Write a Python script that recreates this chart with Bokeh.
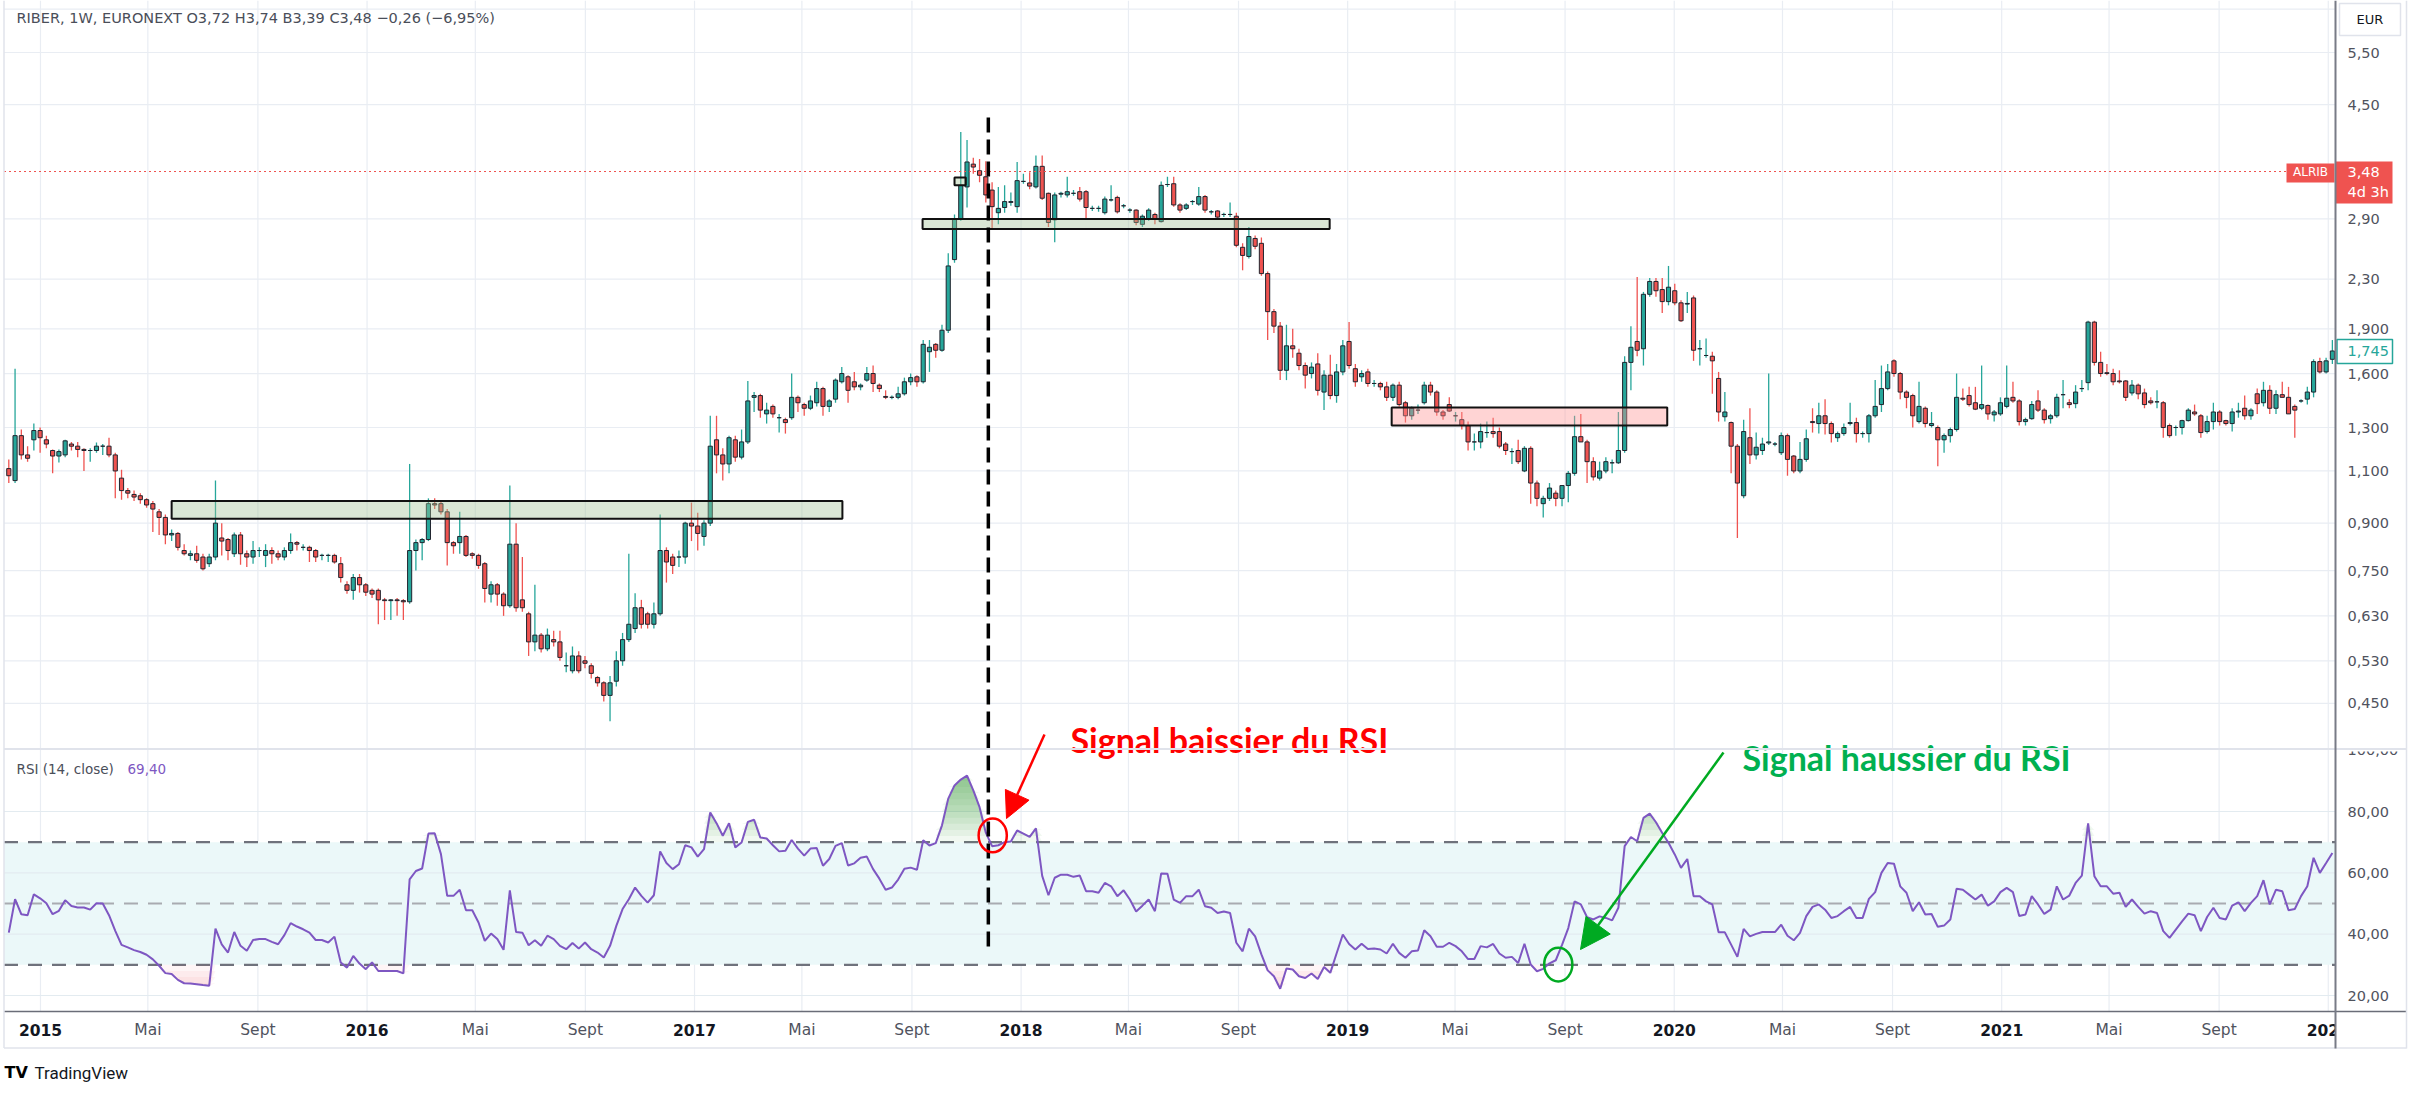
import math
from datetime import date
from bokeh.plotting import figure
from bokeh.models import Range1d, LogScale, Arrow, NormalHead, ColumnDataSource
from bokeh.core.properties import value
from bokeh.embed import file_html
from bokeh.resources import INLINE

# ------------------------------------------------------------------ data
START = date(2014, 11, 24)   # first weekly candle
BAR_OFFSET = 0.37            # TradingView bar alignment vs calendar

OPEN = [
1.11, 1.06, 1.26, 1.17, 1.24, 1.285, 1.24, 1.19, 1.165, 1.17,
1.22, 1.21, 1.195, 1.19, 1.19, 1.21, 1.21, 1.17, 1.07, 1.02,
1.005, 1.00, 0.985, 0.97, 0.94, 0.92, 0.86, 0.865, 0.81, 0.795,
0.80, 0.79, 0.77, 0.79, 0.85, 0.845, 0.80, 0.86, 0.80, 0.79,
0.81, 0.795, 0.81, 0.80, 0.79, 0.81, 0.835, 0.82, 0.82, 0.81,
0.795, 0.795, 0.795, 0.77, 0.71, 0.695, 0.73, 0.71, 0.695, 0.695,
0.67, 0.668, 0.67, 0.668, 0.665, 0.81, 0.835, 0.845, 0.97, 0.97,
0.94, 0.835, 0.835, 0.855, 0.80, 0.795, 0.77, 0.685, 0.71, 0.685,
0.655, 0.83, 0.67, 0.635, 0.57, 0.585, 0.555, 0.575, 0.57, 0.52,
0.51, 0.54, 0.53, 0.52, 0.497, 0.487, 0.464, 0.49, 0.53, 0.575,
0.60, 0.65, 0.635, 0.61, 0.635, 0.81, 0.79, 0.79, 0.79, 0.90,
0.89, 0.855, 0.90, 1.24, 1.17, 1.13, 1.24, 1.16, 1.23, 1.46,
1.47, 1.37, 1.41, 1.35, 1.34, 1.35, 1.46, 1.42, 1.40, 1.43,
1.51, 1.41, 1.45, 1.55, 1.58, 1.55, 1.52, 1.56, 1.60, 1.53,
1.465, 1.46, 1.46, 1.48, 1.55, 1.58, 1.55, 1.74, 1.79, 1.75,
1.89, 2.48, 2.90, 3.28, 3.58, 3.49, 3.41, 3.24, 2.97, 3.03,
3.09, 3.04, 3.35, 3.33, 3.28, 3.55, 3.20, 2.89, 3.19, 3.18,
3.20, 3.22, 3.22, 3.02, 3.02, 2.97, 3.12, 3.15, 3.05, 3.00,
3.00, 2.84, 2.90, 2.95, 2.87, 3.31, 3.32, 3.06, 3.02, 3.10,
3.07, 3.16, 2.98, 2.99, 2.95, 2.95, 2.93, 2.60, 2.51, 2.69,
2.64, 2.35, 2.03, 1.92, 1.62, 1.78, 1.73, 1.65, 1.60, 1.66,
1.49, 1.59, 1.47, 1.61, 1.81, 1.63, 1.58, 1.61, 1.54, 1.54,
1.52, 1.46, 1.53, 1.43, 1.36, 1.39, 1.43, 1.53, 1.49, 1.38,
1.42, 1.36, 1.34, 1.31, 1.23, 1.23, 1.275, 1.28, 1.28, 1.22,
1.185, 1.19, 1.10, 1.20, 1.05, 0.97, 0.99, 1.01, 0.99, 1.04,
1.09, 1.255, 1.23, 1.14, 1.07, 1.10, 1.135, 1.135, 1.19, 1.67,
1.81, 1.76, 2.17, 2.28, 2.21, 2.11, 2.20, 2.10, 2.09, 2.14,
1.76, 1.715, 1.71, 1.57, 1.355, 1.325, 1.21, 1.00, 1.25, 1.17,
1.19, 1.225, 1.22, 1.18, 1.26, 1.165, 1.10, 1.15, 1.33, 1.32,
1.36, 1.32, 1.25, 1.27, 1.32, 1.325, 1.27, 1.27, 1.36, 1.42,
1.51, 1.68, 1.60, 1.49, 1.47, 1.33, 1.40, 1.31, 1.30, 1.24,
1.26, 1.29, 1.455, 1.47, 1.43, 1.40, 1.415, 1.365, 1.37, 1.41,
1.46, 1.44, 1.33, 1.345, 1.44, 1.39, 1.345, 1.36, 1.475, 1.43,
1.425, 1.51, 1.545, 1.95, 1.67, 1.605, 1.60, 1.555, 1.555, 1.485,
1.53, 1.485, 1.44, 1.435, 1.43, 1.31, 1.30, 1.30, 1.335, 1.38,
1.36, 1.28, 1.33, 1.38, 1.335, 1.32, 1.38, 1.40, 1.36, 1.48,
1.43, 1.50, 1.40, 1.475, 1.46, 1.41, 1.44, 1.45, 1.49, 1.675,
1.61, 1.69]

HIGH = [
1.15, 1.63, 1.29, 1.21, 1.32, 1.30, 1.26, 1.195, 1.195, 1.24,
1.23, 1.23, 1.20, 1.20, 1.227, 1.22, 1.25, 1.18, 1.105, 1.03,
1.02, 1.01, 0.99, 0.98, 0.95, 0.93, 0.878, 0.87, 0.83, 0.81,
0.825, 0.80, 0.80, 1.06, 0.90, 0.85, 0.868, 0.87, 0.81, 0.84,
0.82, 0.83, 0.82, 0.81, 0.82, 0.865, 0.84, 0.83, 0.825, 0.815,
0.80, 0.80, 0.80, 0.79, 0.72, 0.74, 0.74, 0.715, 0.70, 0.70,
0.675, 0.672, 0.675, 0.672, 1.13, 0.845, 0.85, 0.99, 0.99, 0.98,
0.95, 0.84, 0.94, 0.86, 0.805, 0.80, 0.775, 0.72, 0.715, 0.69,
1.04, 0.90, 0.79, 0.64, 0.71, 0.59, 0.60, 0.595, 0.595, 0.547,
0.56, 0.55, 0.54, 0.525, 0.50, 0.49, 0.50, 0.55, 0.59, 0.80,
0.687, 0.67, 0.64, 0.663, 0.93, 0.82, 0.80, 0.81, 0.905, 0.974,
0.937, 0.91, 1.36, 1.36, 1.20, 1.26, 1.26, 1.29, 1.555, 1.49,
1.48, 1.43, 1.42, 1.37, 1.35, 1.60, 1.47, 1.43, 1.47, 1.55,
1.52, 1.45, 1.57, 1.64, 1.59, 1.61, 1.54, 1.64, 1.65, 1.54,
1.50, 1.47, 1.52, 1.575, 1.60, 1.59, 1.82, 1.82, 1.80, 1.93,
2.54, 2.95, 4.05, 3.93, 3.67, 3.65, 3.62, 3.34, 3.28, 3.30,
3.21, 3.61, 3.45, 3.47, 3.70, 3.70, 3.21, 3.21, 3.22, 3.41,
3.24, 3.28, 3.24, 3.05, 3.05, 3.16, 3.30, 3.17, 3.07, 3.02,
3.01, 2.95, 3.02, 2.97, 3.35, 3.41, 3.41, 3.08, 3.08, 3.12,
3.28, 3.18, 3.00, 3.00, 2.97, 3.09, 2.97, 2.64, 2.81, 2.72,
2.70, 2.37, 2.05, 1.95, 1.93, 1.90, 1.76, 1.67, 1.67, 1.73,
1.62, 1.72, 1.66, 1.82, 1.95, 1.66, 1.62, 1.63, 1.56, 1.55,
1.55, 1.54, 1.55, 1.44, 1.41, 1.42, 1.55, 1.55, 1.50, 1.39,
1.46, 1.38, 1.38, 1.33, 1.27, 1.32, 1.33, 1.35, 1.30, 1.23,
1.20, 1.24, 1.21, 1.21, 1.06, 1.00, 1.05, 1.02, 1.04, 1.10,
1.36, 1.37, 1.24, 1.16, 1.14, 1.16, 1.15, 1.38, 1.71, 1.92,
2.32, 2.19, 2.31, 2.31, 2.31, 2.42, 2.26, 2.12, 2.19, 2.16,
1.82, 1.83, 1.74, 1.61, 1.49, 1.33, 1.22, 1.34, 1.40, 1.275,
1.25, 1.60, 1.23, 1.275, 1.27, 1.17, 1.23, 1.29, 1.40, 1.43,
1.45, 1.33, 1.28, 1.32, 1.43, 1.35, 1.28, 1.37, 1.56, 1.65,
1.66, 1.69, 1.61, 1.50, 1.48, 1.55, 1.41, 1.38, 1.31, 1.27,
1.30, 1.60, 1.51, 1.52, 1.52, 1.65, 1.42, 1.39, 1.46, 1.65,
1.55, 1.45, 1.35, 1.44, 1.50, 1.40, 1.37, 1.48, 1.56, 1.45,
1.53, 1.56, 1.96, 1.96, 1.74, 1.66, 1.63, 1.62, 1.56, 1.56,
1.54, 1.51, 1.46, 1.50, 1.44, 1.32, 1.31, 1.34, 1.40, 1.42,
1.37, 1.36, 1.43, 1.39, 1.34, 1.40, 1.43, 1.47, 1.40, 1.51,
1.55, 1.53, 1.50, 1.55, 1.52, 1.42, 1.45, 1.52, 1.69, 1.70,
1.70, 1.82]

LOW = [
1.05, 1.05, 1.15, 1.14, 1.19, 1.18, 1.20, 1.09, 1.136, 1.16,
1.19, 1.16, 1.10, 1.14, 1.18, 1.17, 1.16, 0.99, 0.985, 0.99,
0.98, 0.97, 0.955, 0.87, 0.86, 0.83, 0.84, 0.81, 0.795, 0.78,
0.773, 0.75, 0.76, 0.78, 0.795, 0.78, 0.79, 0.767, 0.76, 0.77,
0.79, 0.76, 0.77, 0.78, 0.78, 0.80, 0.81, 0.81, 0.775, 0.775,
0.78, 0.775, 0.77, 0.716, 0.686, 0.67, 0.689, 0.68, 0.675, 0.61,
0.62, 0.62, 0.63, 0.62, 0.66, 0.75, 0.78, 0.84, 0.95, 0.93,
0.765, 0.80, 0.80, 0.79, 0.785, 0.755, 0.663, 0.663, 0.655, 0.63,
0.65, 0.64, 0.64, 0.54, 0.55, 0.547, 0.55, 0.56, 0.53, 0.507,
0.505, 0.505, 0.515, 0.495, 0.48, 0.453, 0.42, 0.48, 0.52, 0.57,
0.59, 0.60, 0.60, 0.60, 0.63, 0.716, 0.74, 0.76, 0.77, 0.84,
0.81, 0.825, 0.89, 1.09, 1.06, 1.09, 1.14, 1.15, 1.22, 1.38,
1.35, 1.32, 1.35, 1.275, 1.27, 1.34, 1.38, 1.36, 1.39, 1.41,
1.36, 1.38, 1.43, 1.54, 1.43, 1.50, 1.50, 1.55, 1.49, 1.49,
1.45, 1.45, 1.45, 1.47, 1.53, 1.52, 1.54, 1.61, 1.70, 1.74,
1.87, 2.45, 2.88, 3.03, 3.45, 3.34, 3.09, 2.79, 2.84, 2.97,
3.05, 2.97, 3.32, 3.25, 3.26, 3.12, 2.81, 2.65, 3.15, 3.15,
3.17, 3.10, 2.90, 2.99, 2.98, 2.95, 3.10, 2.96, 3.02, 2.97,
2.83, 2.81, 2.88, 2.84, 2.86, 3.28, 3.04, 2.97, 3.00, 3.06,
3.05, 2.97, 2.95, 2.90, 2.92, 2.92, 2.60, 2.38, 2.49, 2.58,
2.33, 1.82, 1.87, 1.56, 1.56, 1.70, 1.62, 1.51, 1.57, 1.47,
1.39, 1.45, 1.43, 1.59, 1.63, 1.52, 1.55, 1.52, 1.52, 1.50,
1.44, 1.44, 1.41, 1.325, 1.34, 1.37, 1.42, 1.47, 1.36, 1.34,
1.38, 1.33, 1.29, 1.19, 1.19, 1.20, 1.25, 1.25, 1.20, 1.17,
1.13, 1.13, 1.095, 0.97, 0.96, 0.92, 0.98, 0.96, 0.96, 0.975,
1.08, 1.23, 1.05, 1.06, 1.06, 1.09, 1.09, 1.13, 1.18, 1.50,
1.71, 1.65, 2.15, 2.15, 2.02, 2.08, 2.08, 1.95, 2.02, 1.68,
1.65, 1.70, 1.48, 1.33, 1.33, 1.09, 0.85, 0.99, 1.13, 1.15,
1.17, 1.215, 1.21, 1.17, 1.08, 1.09, 1.09, 1.14, 1.275, 1.27,
1.265, 1.227, 1.23, 1.26, 1.31, 1.227, 1.25, 1.227, 1.35, 1.38,
1.50, 1.58, 1.45, 1.40, 1.30, 1.32, 1.30, 1.30, 1.12, 1.18,
1.227, 1.28, 1.44, 1.41, 1.39, 1.39, 1.34, 1.33, 1.36, 1.40,
1.43, 1.31, 1.31, 1.34, 1.38, 1.32, 1.32, 1.35, 1.40, 1.40,
1.40, 1.49, 1.50, 1.65, 1.58, 1.59, 1.53, 1.54, 1.44, 1.47,
1.45, 1.40, 1.42, 1.40, 1.25, 1.25, 1.26, 1.265, 1.33, 1.36,
1.25, 1.27, 1.29, 1.31, 1.31, 1.28, 1.35, 1.34, 1.34, 1.37,
1.41, 1.37, 1.37, 1.46, 1.37, 1.25, 1.43, 1.42, 1.46, 1.60,
1.60, 1.66]

CLOSE = [
1.08, 1.26, 1.17, 1.155, 1.285, 1.25, 1.22, 1.165, 1.185, 1.235,
1.21, 1.195, 1.19, 1.19, 1.21, 1.21, 1.17, 1.10, 1.02, 1.01,
0.995, 0.985, 0.965, 0.95, 0.92, 0.86, 0.865, 0.82, 0.80, 0.80,
0.78, 0.755, 0.79, 0.90, 0.84, 0.81, 0.86, 0.80, 0.79, 0.81,
0.81, 0.81, 0.80, 0.79, 0.81, 0.835, 0.83, 0.82, 0.81, 0.79,
0.795, 0.795, 0.775, 0.73, 0.695, 0.73, 0.71, 0.69, 0.685, 0.67,
0.668, 0.67, 0.668, 0.665, 0.81, 0.835, 0.845, 0.97, 0.965, 0.94,
0.835, 0.825, 0.855, 0.795, 0.795, 0.765, 0.70, 0.71, 0.685, 0.655,
0.83, 0.65, 0.65, 0.57, 0.585, 0.555, 0.585, 0.57, 0.537, 0.52,
0.54, 0.51, 0.525, 0.505, 0.487, 0.464, 0.487, 0.53, 0.575, 0.61,
0.65, 0.61, 0.61, 0.635, 0.81, 0.775, 0.765, 0.79, 0.90, 0.89,
0.865, 0.90, 1.21, 1.17, 1.13, 1.25, 1.16, 1.23, 1.44, 1.47,
1.39, 1.39, 1.37, 1.35, 1.325, 1.46, 1.43, 1.40, 1.44, 1.51,
1.41, 1.44, 1.56, 1.60, 1.50, 1.52, 1.53, 1.60, 1.54, 1.51,
1.46, 1.46, 1.48, 1.55, 1.575, 1.55, 1.79, 1.77, 1.75, 1.89,
2.42, 2.90, 3.30, 3.61, 3.54, 3.43, 3.18, 3.04, 3.02, 3.10,
3.10, 3.36, 3.35, 3.29, 3.55, 3.14, 2.86, 3.18, 3.20, 3.22,
3.20, 3.13, 3.03, 3.02, 3.02, 3.13, 3.12, 2.98, 3.05, 3.00,
2.86, 2.93, 3.00, 2.90, 3.30, 3.31, 3.06, 3.00, 3.06, 3.10,
3.16, 3.00, 2.98, 2.92, 2.95, 2.95, 2.62, 2.52, 2.71, 2.61,
2.35, 2.03, 1.92, 1.62, 1.78, 1.76, 1.65, 1.59, 1.64, 1.50,
1.59, 1.47, 1.61, 1.78, 1.65, 1.55, 1.60, 1.54, 1.54, 1.52,
1.46, 1.53, 1.42, 1.36, 1.40, 1.39, 1.53, 1.49, 1.38, 1.36,
1.385, 1.36, 1.31, 1.23, 1.23, 1.28, 1.275, 1.27, 1.21, 1.19,
1.185, 1.14, 1.20, 1.05, 0.99, 0.99, 1.03, 0.99, 1.04, 1.09,
1.255, 1.23, 1.14, 1.075, 1.10, 1.14, 1.135, 1.19, 1.67, 1.77,
1.75, 2.17, 2.28, 2.20, 2.11, 2.23, 2.10, 1.96, 2.095, 1.75,
1.76, 1.715, 1.68, 1.38, 1.38, 1.21, 1.05, 1.28, 1.17, 1.205,
1.22, 1.23, 1.22, 1.26, 1.15, 1.10, 1.15, 1.245, 1.325, 1.36,
1.32, 1.27, 1.27, 1.30, 1.325, 1.27, 1.27, 1.36, 1.41, 1.51,
1.61, 1.60, 1.49, 1.46, 1.36, 1.41, 1.32, 1.32, 1.24, 1.26,
1.29, 1.46, 1.45, 1.42, 1.395, 1.42, 1.37, 1.38, 1.43, 1.455,
1.44, 1.33, 1.34, 1.42, 1.39, 1.34, 1.36, 1.46, 1.475, 1.42,
1.49, 1.51, 1.95, 1.67, 1.60, 1.60, 1.55, 1.55, 1.46, 1.53,
1.48, 1.42, 1.43, 1.435, 1.30, 1.26, 1.30, 1.335, 1.39, 1.37,
1.275, 1.33, 1.38, 1.33, 1.32, 1.38, 1.385, 1.36, 1.39, 1.425,
1.50, 1.40, 1.475, 1.46, 1.37, 1.39, 1.44, 1.49, 1.675, 1.61,
1.68, 1.745]

RSI = [
40.5, 51.4, 46.5, 46.2, 53.0, 51.7, 50.1, 46.5, 47.6, 51.1,
49.2, 48.7, 48.7, 48.0, 50.1, 50.0, 46.2, 41.1, 36.5, 35.7,
34.8, 34.2, 33.3, 31.8, 29.7, 27.3, 27.0, 25.1, 24.0, 23.9,
23.7, 23.4, 23.2, 41.8, 36.7, 34.0, 40.7, 36.2, 34.6, 38.1,
38.4, 38.4, 37.5, 36.7, 39.7, 43.6, 42.5, 41.6, 40.5, 38.1,
38.1, 37.3, 39.2, 30.8, 29.1, 32.9, 30.4, 28.6, 30.8, 28.0,
28.0, 28.0, 28.0, 27.2, 57.9, 60.6, 61.4, 72.8, 72.9, 66.1,
52.5, 52.5, 54.5, 47.8, 47.8, 43.8, 37.8, 40.2, 38.4, 34.9,
54.3, 40.7, 40.5, 36.4, 38.0, 36.2, 39.5, 38.4, 36.2, 35.1,
37.1, 35.3, 37.3, 35.1, 34.0, 32.4, 36.2, 42.7, 48.2, 51.4,
55.2, 52.5, 50.3, 52.7, 67.0, 63.2, 61.2, 62.8, 69.0, 68.3,
65.3, 67.7, 79.7, 76.2, 72.1, 76.2, 68.3, 69.9, 76.6, 77.3,
71.5, 71.2, 69.0, 67.0, 67.2, 70.7, 67.9, 65.6, 67.9, 68.1,
62.3, 64.5, 68.8, 69.7, 62.4, 63.1, 64.9, 65.3, 61.2, 58.1,
54.5, 55.2, 57.8, 61.3, 61.7, 61.0, 70.6, 68.9, 69.7, 75.5,
84.2, 88.5, 90.4, 91.7, 86.9, 81.4, 73.1, 68.7, 69.0, 70.0,
70.2, 73.8, 72.8, 71.7, 74.5, 59.0, 52.7, 58.4, 59.4, 59.4,
58.7, 59.1, 54.0, 54.0, 53.5, 56.7, 55.6, 52.4, 54.3, 51.3,
47.4, 49.3, 51.3, 47.5, 59.8, 59.7, 51.3, 50.2, 52.4, 52.4,
54.5, 49.1, 48.6, 46.9, 47.4, 46.9, 37.2, 34.4, 41.8, 39.3,
33.4, 28.2, 26.3, 22.2, 28.8, 28.5, 26.3, 25.7, 27.2, 25.4,
29.3, 27.4, 33.7, 39.9, 36.8, 35.0, 36.9, 35.2, 35.3, 35.0,
33.7, 36.9, 33.9, 32.3, 34.4, 34.7, 41.3, 39.3, 35.9, 35.9,
37.2, 36.1, 34.4, 31.9, 31.9, 36.1, 35.7, 36.8, 33.7, 32.3,
32.6, 30.6, 36.9, 30.1, 27.9, 28.7, 30.5, 31.5, 36.5, 42.0,
50.7, 49.7, 45.5, 44.8, 45.8, 45.3, 44.5, 48.6, 68.7, 71.7,
70.3, 77.9, 79.3, 76.5, 73.0, 69.8, 66.0, 61.6, 64.5, 52.4,
52.4, 50.7, 49.7, 40.6, 40.6, 36.6, 32.6, 41.7, 39.3, 40.1,
40.7, 40.7, 40.7, 43.1, 39.5, 38.0, 40.4, 45.9, 48.9, 49.7,
48.0, 45.3, 45.9, 47.5, 48.9, 45.3, 45.3, 51.5, 53.7, 60.0,
63.2, 63.0, 55.6, 53.5, 47.5, 50.4, 46.4, 46.6, 42.4, 42.8,
44.8, 54.8, 54.5, 52.9, 51.3, 52.9, 49.3, 50.7, 53.7, 55.1,
53.7, 45.9, 46.4, 52.4, 49.7, 46.6, 48.0, 55.6, 51.3, 52.6,
56.7, 59.1, 76.1, 58.9, 55.6, 55.6, 53.2, 53.5, 48.9, 51.3,
48.9, 46.7, 47.5, 46.9, 41.0, 38.8, 41.5, 44.2, 46.7, 46.2,
41.0, 45.6, 48.6, 45.3, 44.8, 49.3, 50.4, 47.5, 50.2, 52.4,
57.6, 49.7, 54.5, 54.0, 47.8, 48.2, 52.4, 55.6, 64.9, 60.0,
63.2, 66.5]

N = len(CLOSE)
assert len(OPEN) == N and len(HIGH) == N and len(LOW) == N and len(RSI) == N

PRICE_TICKS = [6.5, 5.5, 4.5, 2.9, 2.3, 1.9, 1.6, 1.3, 1.1, 0.9, 0.75, 0.63, 0.53, 0.45]
PRICE_LABELS = ["", "5,50", "4,50", "2,90", "2,30", "1,900", "1,600", "1,300", "1,100",
                "0,900", "0,750", "0,630", "0,530", "0,450"]
RSI_GRID = [20, 40, 60, 80]
RSI_LABELS = ["20,00", "40,00", "60,00", "80,00"]
RSI_UPPER, RSI_MID, RSI_LOWER = 70, 50, 30
LAST_PRICE = 3.48
LAST_CLOSE = 1.745
TITLE = "RIBER, 1W, EURONEXT  O3,72  H3,74  B3,39  C3,48  \u22120,26 (\u22126,95%)"
RSI_TITLE = "RSI (14, close)"
RSI_VALUE = "69,40"
MONTH_NAMES = {5: "Mai", 9: "Sept"}

# drawn annotations: (bar_start, bar_end, price_low, price_high)
GREEN_ZONES = [(26.0, 133.1, 0.915, 0.98), (145.9, 210.9, 2.79, 2.90), (151.0, 152.8, 3.30, 3.40)]
PINK_ZONES = [(220.8, 264.8, 1.31, 1.404)]
SIGNAL_BAR = 156.4
SELL_MARK = (157.1, 72.2)   # bar, RSI
BUY_MARK = (247.4, 30.1)

# ------------------------------------------------------------------ layout helpers
W, H = 2410, 1085
PAGE = 8
def X(px): return (px - 16.3) / 6.263                 # page x -> bar index
def V(py): return 80 - (py - 819.0) / 3.067            # page y -> RSI units
def P(py): return 5.5 * math.exp(-(py - 60.0) / 260.0)  # page y -> price (log)

FONT = value("DejaVu Sans")
GRID = "#e9edf3"
TEAL, RED = "#26a69a", "#ef5350"
AXC = "#50535e"

p = figure(width=W, height=H, output_backend="svg", toolbar_location=None,
           x_axis_location=None, y_axis_location=None, min_border=0, title=None,
           x_range=Range1d(X(PAGE), X(PAGE + W)), y_range=Range1d(V(PAGE + H), V(PAGE)))
p.extra_y_ranges = {"price": Range1d(P(PAGE + H), P(PAGE))}
p.extra_y_scales = {"price": LogScale()}
p.outline_line_color = None
p.grid.visible = False
p.background_fill_color = "white"
p.border_fill_color = "white"

LX, AX = X(11.5), X(2343)

# time ticks
ticks = []
for yr in range(2015, 2023):
    for m in (1, 5, 9):
        d = date(yr, m, 1)
        if d > date(2022, 1, 1):
            continue
        pos = (d - START).days / 7 - BAR_OFFSET
        ticks.append((pos, str(yr) if m == 1 else MONTH_NAMES[m], m == 1))

# grid
p.segment(x0=[t[0] for t in ticks], x1=[t[0] for t in ticks], y0=V(8), y1=V(1019),
          line_color=GRID, line_width=1.2)
p.segment(x0=LX, x1=AX, y0=PRICE_TICKS, y1=PRICE_TICKS, line_color=GRID, line_width=1.2,
          y_range_name="price")

# RSI band + grid + levels
p.quad(left=LX, right=AX, bottom=RSI_LOWER, top=RSI_UPPER, fill_color="#ebf8f9", line_color=None)
p.segment(x0=LX, x1=AX, y0=RSI_GRID, y1=RSI_GRID, line_color="#e3ebf0", line_width=1.2)
p.segment(x0=LX, x1=AX, y0=[RSI_UPPER, RSI_LOWER], y1=[RSI_UPPER, RSI_LOWER],
          line_color="#6f727c", line_width=2.3, line_dash="14 10")
p.segment(x0=LX, x1=AX, y0=RSI_MID, y1=RSI_MID, line_color="#a9abb1", line_width=2.0, line_dash="14 10")

xs = list(range(N))
for k in range(12):
    thr = RSI_UPPER + 2.0 * k
    p.varea(x=xs, y1=[thr] * N, y2=[max(r, thr) for r in RSI], fill_color="#43a047", fill_alpha=0.075)
for k in range(8):
    thr = RSI_LOWER - 2.0 * k
    p.varea(x=xs, y1=[min(r, thr) for r in RSI], y2=[thr] * N, fill_color="#f23645", fill_alpha=0.05)
p.line(xs, RSI, line_color="#7e57c2", line_width=2)

# candles
colors = [TEAL if c >= o else RED for o, c in zip(OPEN, CLOSE)]
src = ColumnDataSource(dict(x=xs, h=HIGH, l=LOW,
                            top=[max(o, c) for o, c in zip(OPEN, CLOSE)],
                            bot=[min(o, c) for o, c in zip(OPEN, CLOSE)], col=colors))
p.segment(x0="x", x1="x", y0="l", y1="h", line_color="col", line_width=1.3, source=src, y_range_name="price")
p.vbar(x="x", top="top", bottom="bot", width=0.66, fill_color="col", line_color="#20242e",
       line_width=1, source=src, y_range_name="price")

# zones
for (a, b, lo, hi) in GREEN_ZONES:
    p.quad(left=a, right=b, bottom=lo, top=hi, fill_color="#a2c496", fill_alpha=0.4,
           line_color="#111111", line_width=2, y_range_name="price")
for (a, b, lo, hi) in PINK_ZONES:
    p.quad(left=a, right=b, bottom=lo, top=hi, fill_color="#ff9393", fill_alpha=0.4,
           line_color="#111111", line_width=2, y_range_name="price")

# last price dotted line
p.segment(x0=LX, x1=X(2294), y0=LAST_PRICE, y1=LAST_PRICE, line_color=RED, line_width=1,
          line_dash="2 3", y_range_name="price")

# signal annotations
p.segment(x0=SIGNAL_BAR, x1=SIGNAL_BAR, y0=V(125), y1=V(957), line_color="black", line_width=3.5,
          line_dash="15 7")
p.ellipse(x=[SELL_MARK[0]], y=[SELL_MARK[1]], width=4.5, height=11, fill_color=None,
          line_color="#ff0000", line_width=2.5)
p.ellipse(x=[BUY_MARK[0]], y=[BUY_MARK[1]], width=4.5, height=11, fill_color=None,
          line_color="#00aa22", line_width=2.5)
p.add_layout(Arrow(end=NormalHead(size=26, fill_color="#ff0000", line_color="#ff0000"),
                   x_start=X(1052), y_start=V(742), x_end=X(1014), y_end=V(826),
                   line_color="#ff0000", line_width=2.5))
p.add_layout(Arrow(end=NormalHead(size=30, fill_color="#00aa22", line_color="#00aa22"),
                   x_start=X(1731), y_start=V(760), x_end=X(1588), y_end=V(957),
                   line_color="#00aa22", line_width=2.5))
p.text(x=[X(1078)], y=[V(747)], text=["Signal baissier du RSI"], text_color="#ff0000",
       text_font=value("Lato"), text_font_style="bold", text_font_size="34px",
       text_baseline="alphabetic", text_align="left")
p.text(x=[X(1750)], y=[V(765)], text=["Signal haussier du RSI"], text_color="#00b050",
       text_font=value("Lato"), text_font_style="bold", text_font_size="34px",
       text_baseline="alphabetic", text_align="left")

# legends
p.text(x=[X(24)], y=[V(25)], text=[TITLE], text_color="#4a4e59", text_font=FONT,
       text_font_size="14.5px", text_baseline="middle")
p.text(x=[X(24)], y=[V(776)], text=[RSI_TITLE], text_color="#4a4e59", text_font=FONT,
       text_font_size="13.5px", text_baseline="middle")
p.text(x=[X(135)], y=[V(776)], text=[RSI_VALUE], text_color="#7e57c2", text_font=FONT,
       text_font_size="13.5px", text_baseline="middle")

# frame lines
p.segment(x0=LX, x1=X(2414), y0=V(756.5), y1=V(756.5), line_color="#e0e3eb", line_width=2)
p.segment(x0=LX, x1=X(2414), y0=V(1019), y1=V(1019), line_color="#6a6d78", line_width=1.5)
p.segment(x0=LX, x1=X(2414), y0=V(1055.5), y1=V(1055.5), line_color="#e0e3eb", line_width=1.5)
p.segment(x0=LX, x1=LX, y0=V(8), y1=V(1055.5), line_color="#e0e3eb", line_width=1.5)

# time labels
yl = [t for t in ticks if t[2]]
ml = [t for t in ticks if not t[2]]
p.text(x=[t[0] for t in yl], y=V(1037), text=[t[1] for t in yl], text_color="#131722",
       text_font=FONT, text_font_style="bold", text_font_size="15.5px", text_align="center",
       text_baseline="middle")
p.text(x=[t[0] for t in ml], y=V(1037), text=[t[1] for t in ml], text_color=AXC,
       text_font=FONT, text_font_size="15.5px", text_align="center", text_baseline="middle")

# right axis column
p.quad(left=AX, right=X(2418), bottom=V(1093), top=V(8), fill_color="white", line_color=None)
LBX = X(2355)
p.text(x=LBX, y=PRICE_TICKS[1:], text=PRICE_LABELS[1:], text_color=AXC, text_font=FONT,
       text_font_size="14.5px", text_baseline="middle", y_range_name="price")
p.text(x=LBX, y=[100], text=["100,00"], text_color=AXC, text_font=FONT,
       text_font_size="14.5px", text_baseline="middle")
p.quad(left=AX, right=X(2414), bottom=V(759), top=V(735), fill_color="white", line_color=None)
p.text(x=LBX, y=RSI_GRID, text=RSI_LABELS, text_color=AXC, text_font=FONT,
       text_font_size="14.5px", text_baseline="middle")
p.segment(x0=AX, x1=X(2414), y0=V(756.5), y1=V(756.5), line_color="#e0e3eb", line_width=2)
p.segment(x0=AX, x1=X(2414), y0=V(1019), y1=V(1019), line_color="#6a6d78", line_width=1.5)
p.segment(x0=AX, x1=X(2414), y0=V(1055.5), y1=V(1055.5), line_color="#e0e3eb", line_width=1.5)

# EUR box
p.quad(left=X(2347), right=X(2408), bottom=V(43), top=V(11), fill_color="white",
       line_color="#e0e3eb", line_width=1.5)
p.text(x=[X(2377.5)], y=[V(27)], text=["EUR"], text_color="#131722", text_font=FONT,
       text_font_size="13px", text_align="center", text_baseline="middle")

# last price labels
p.quad(left=X(2294), right=X(2342), bottom=P(190), top=P(171), fill_color=RED, line_color=None,
       y_range_name="price")
p.text(x=[X(2318)], y=[LAST_PRICE], text=["ALRIB"], text_color="white", text_font=FONT,
       text_font_size="12px", text_align="center", text_baseline="middle", y_range_name="price")
p.quad(left=AX, right=X(2400), bottom=P(211), top=P(169), fill_color=RED, line_color=None,
       y_range_name="price")
p.text(x=[LBX], y=[LAST_PRICE], text=["3,48"], text_color="white", text_font=FONT,
       text_font_size="14.5px", text_baseline="middle", y_range_name="price")
p.text(x=[LBX], y=[P(199)], text=["4d 3h"], text_color="white", text_font=FONT,
       text_font_size="14.5px", text_baseline="middle", y_range_name="price")
p.quad(left=X(2344.5), right=X(2400), bottom=P(371), top=P(347), fill_color="white",
       line_color=TEAL, line_width=1.5, y_range_name="price")
p.text(x=[LBX], y=[LAST_CLOSE], text=["1,745"], text_color=TEAL, text_font=FONT,
       text_font_size="14.5px", text_baseline="middle", y_range_name="price")

p.segment(x0=AX, x1=AX, y0=V(8), y1=V(1056), line_color="#787b86", line_width=2)
p.segment(x0=X(2414), x1=X(2414), y0=V(8), y1=V(1056), line_color="#e0e3eb", line_width=1.5)

# TradingView logo
p.text(x=[X(12)], y=[V(1080)], text=["TV"], text_color="#000000", text_font=value("DejaVu Sans"),
       text_font_style="bold", text_font_size="16px", text_baseline="middle")
p.text(x=[X(42)], y=[V(1080)], text=["TradingView"], text_color="#131722", text_font=value("Roboto"),
       text_font_size="17px", text_baseline="middle")

open("out.html", "w").write(file_html(p, INLINE))
